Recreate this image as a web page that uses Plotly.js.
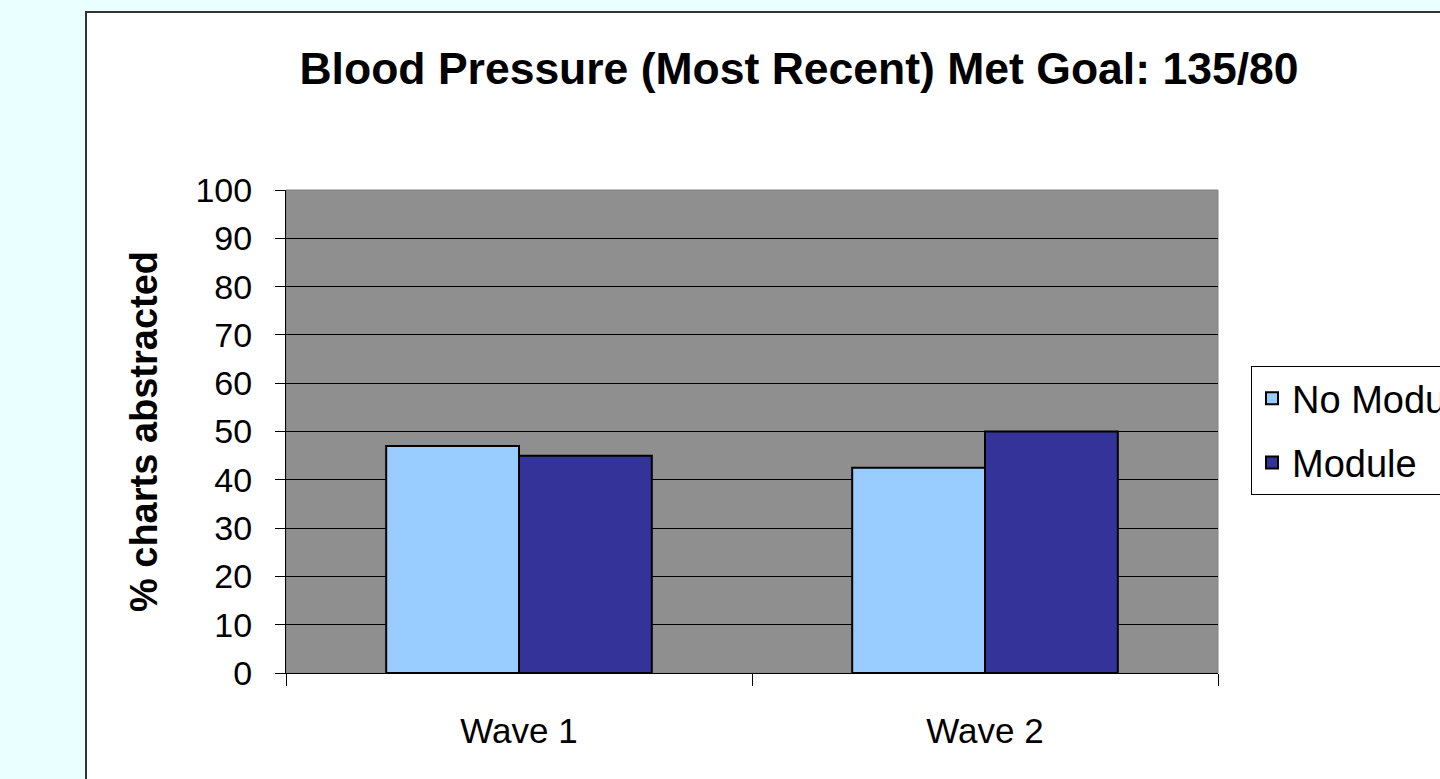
<!DOCTYPE html>
<html>
<head>
<meta charset="utf-8">
<script src="https://cdn.plot.ly/plotly-3.0.1.min.js"></script>
<style>
html,body{margin:0;padding:0;background:#EAFFFF;}
#chart{width:1440px;height:779px;}
</style>
</head>
<body>
<div id="chart"></div>
<script>
const categories = ["Wave 1", "Wave 2"];
const noModule = [47, 42.5];
const module_ = [45, 50];
const seriesNames = ["No Module", "Module"];
const yTicks = [0,10,20,30,40,50,60,70,80,90,100];

const FONT = "Arial, 'Liberation Sans', sans-serif";

const traces = [
  {type:'bar', name:seriesNames[0], x:categories, y:noModule, legendgroup:'a',
   marker:{color:'#99CCFF', line:{color:'#000000', width:2}}, hoverinfo:'y'},
  {type:'bar', name:seriesNames[1], x:categories, y:module_, legendgroup:'b',
   marker:{color:'#333399', line:{color:'#000000', width:2}}, hoverinfo:'y'}
];

const layout = {
  width:1440, height:779,
  paper_bgcolor:'#EAFFFF',
  plot_bgcolor:'rgba(0,0,0,0)',
  font:{family:FONT, color:'#000000'},
  margin:{l:286, r:222, t:190, b:106, autoexpand:false},
  barmode:'group',
  bargap:0.43,
  bargroupgap:0,
  title:{text:'<b>Blood Pressure (Most Recent) Met Goal: 135/80</b>',
    font:{family:FONT, size:44.5, color:'#000000'},
    xref:'paper', x:(799-286)/932, xanchor:'center',
    yref:'container', y:1-68/779, yanchor:'middle'},
  xaxis:{
    type:'category',
    tickson:'boundaries', ticks:'outside', ticklen:12, tickcolor:'#000000', tickwidth:1,
    tickfont:{family:FONT, size:35, color:'#000000'},
    ticklabelstandoff:27,
    showline:true, linecolor:'#000000', linewidth:1,
    showgrid:false, zeroline:false, fixedrange:true
  },
  yaxis:{
    range:[0,100], tickvals:yTicks, ticktext:yTicks.map(String),
    ticks:'outside', ticklen:10, tickcolor:'#000000', tickwidth:1,
    tickfont:{family:FONT, size:34, color:'#000000'},
    ticklabelstandoff:16,
    showgrid:true, gridcolor:'#000000', gridwidth:1,
    showline:true, linecolor:'#000000', linewidth:1,
    zeroline:false, fixedrange:true,
    title:{text:'<b>% charts abstracted</b>', font:{family:FONT, size:38, color:'#000000'}, standoff:26}
  },
  legend:{
    x:(1251-286)/932, xanchor:'left', y:(673-366)/483, yanchor:'top',
    bgcolor:'#FFFFFF', bordercolor:'#000000', borderwidth:1,
    font:{family:FONT, size:38, color:'#000000'},
    traceorder:'grouped', tracegroupgap:12
  },
  shapes:[
    {type:'rect', xref:'paper', yref:'paper', layer:'below',
     x0:(86-286)/932, x1:(1512-286)/932, y0:(673-800)/483, y1:(673-12)/483,
     fillcolor:'#FFFFFF', line:{color:'#333333', width:2}},
    {type:'rect', xref:'paper', yref:'paper', layer:'below',
     x0:0, x1:1, y0:0, y1:1,
     fillcolor:'#8F8F8F', line:{color:'#808080', width:1}}
  ],
  showlegend:true
};

Plotly.newPlot('chart', traces, layout, {displayModeBar:false, staticPlot:true});
</script>
</body>
</html>
